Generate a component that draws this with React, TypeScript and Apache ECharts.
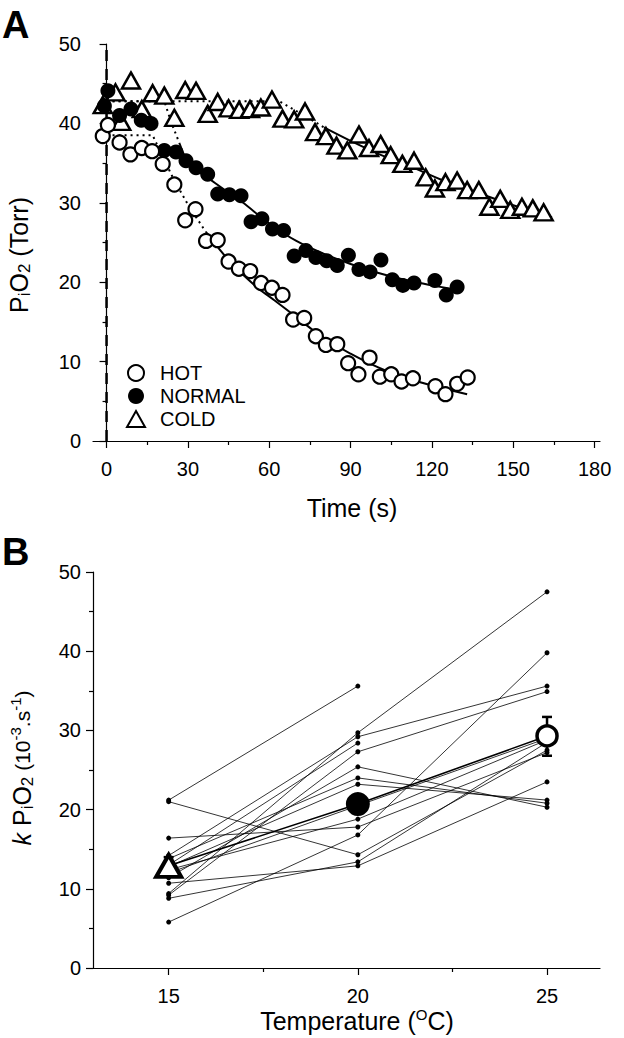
import React, { useEffect, useRef } from "react";
import * as echarts from "echarts";

const FONT = '"Liberation Sans", Arial, Helvetica, sans-serif';

// ---------- Panel A data (time in s, PiO2 in Torr) ----------
const hotTime = [-1.4, 0.5, 4.8, 8.8, 13, 16.8, 20.7, 25, 29, 32.8, 36.7, 41, 45, 48.8, 53, 57, 61, 64.9, 68.8, 72.9, 77.2, 80.9, 85.1, 89.1, 92.9, 97, 100.8, 105, 108.8, 113, 121.3, 125, 129.3, 133.2];
const hotPO2 = [38.4, 39.8, 37.6, 36.1, 36.9, 36.5, 34.9, 32.3, 27.8, 29.2, 25.2, 25.3, 22.6, 21.7, 21.4, 19.9, 19.3, 18.4, 15.3, 15.5, 13.2, 12.1, 12.2, 9.8, 8.4, 10.5, 8.1, 8.4, 7.5, 7.9, 6.9, 5.9, 7.2, 8.0];

const normalTime = [0.5, -0.8, 4.8, 9, 12.8, 16.4, 21.3, 25.6, 29.3, 33, 37.3, 41, 45.3, 49.6, 53.3, 57.3, 61.2, 65.3, 69.2, 73.5, 77.2, 81.2, 85.1, 89.2, 93.1, 97.2, 101.2, 105.4, 109.3, 113.4, 121.1, 125.3, 129.3];
const normalPO2 = [44.1, 42.2, 41, 41.8, 40.4, 40, 36.6, 36.4, 35.3, 34.4, 33.6, 31.1, 31, 30.9, 27.6, 28, 26.7, 26.5, 23.3, 24, 23.1, 22.7, 22.1, 23.4, 21.6, 21.3, 22.8, 20.3, 19.6, 19.9, 20.2, 18.4, 19.4];

const coldTime = [-1.4, 3.3, 5.4, 9, 13, 17, 21.3, 25, 29, 33, 37.3, 41, 45, 48.9, 52.9, 56.9, 61, 64.9, 69.2, 73.2, 76.9, 80.9, 84.8, 88.8, 93.1, 96.8, 101.1, 104.8, 109.1, 113.4, 117.7, 121.1, 125, 129.3, 133, 137.3, 141.2, 145.2, 148.9, 153.2, 157.2, 161.2];
const coldPO2 = [42.3, 43.9, 40.2, 45.4, 41.8, 43.8, 43.5, 40.7, 44.2, 44.1, 41.2, 42.7, 41.9, 41.7, 41.8, 42, 43, 40.6, 40.5, 41.5, 38.9, 38.4, 37.2, 36.6, 38.6, 36.9, 37.4, 36, 34.9, 35.3, 33.2, 31.8, 32.6, 32.8, 31.6, 31.6, 29.5, 30.5, 29.1, 29.5, 29.3, 28.8];

// fitted curves
const hotDotT = [0, 17, 21, 25, 30.5, 36.7];
const hotDotY = [38.5, 38.5, 35.6, 32.8, 29.5, 26.3];
const hotFitT = [36.7, 45, 55, 62, 70, 80, 90, 100, 110, 120, 133];
const hotFitY = [26.3, 22.8, 19.5, 17.7, 15.6, 13.0, 11.0, 9.3, 8.0, 7.0, 5.9];

const normalDotT = [0, 21.3, 24, 27];
const normalDotY = [42.8, 42.8, 40.0, 37.4];
const normalFitT = [27, 30.5, 40, 50, 60, 70, 80, 90, 100, 110, 120, 130];
const normalFitY = [37.4, 35.0, 32.5, 30.1, 27.4, 25.2, 23.6, 22.3, 21.2, 20.3, 19.6, 19.0];

const coldDotT = [0, 63.7, 72.9, 80.2];
const coldDotY = [42.8, 42.8, 41.0, 39.5];
const coldFitT = [80.2, 90, 100, 112.7, 125, 137.3, 150, 164.3];
const coldFitY = [39.5, 37.8, 36.2, 34.5, 32.7, 31.2, 29.7, 28.2];

const timeTicks = [0, 30, 60, 90, 120, 150, 180];
const timeMinorTicks = [15, 45, 75, 105, 135, 165];

// ---------- Panel B data (kPiO2, 10^-3 s^-1) ----------
const temperatures = [15, 20, 25];
const k15 = [21.2, 21.0, 16.4, 14.2, 9.4, 9.2, 13.8, 12.4, 12.0, 10.7, 8.8, 5.8, 11.4, 12.8, 13.0];
const k20 = [35.6, 14.3, 17.8, 29.2, 29.7, 27.3, 24.0, 18.8, 20.5, 12.9, 13.4, 16.8, 25.4, 23.2, 28.4];
const k25 = [null, 27.5, 27.2, 35.6, 47.5, 34.9, 20.8, 28.8, 29.0, 23.5, 28.5, 39.8, 20.3, 21.2, null];
const meanK = [12.9, 20.7, 29.3];
const seLow = [11.6, 19.8, 26.8];
const seHigh = [14.0, 21.6, 31.7];
const tempTicks = [15, 20, 25];
const tempMinorTicks = [17.5, 22.5];

const zip = (a: number[], b: (number | null)[]) =>
  a.map((v, i) => [v, b[i]]).filter((p) => p[1] !== null && p[1] !== undefined);

export default function App() {
  const ref = useRef<HTMLDivElement>(null);

  useEffect(() => {
    document.body.style.margin = "0";
    const chart = echarts.init(ref.current!, null, { renderer: "svg" });

    const axisLbl = { color: "#000", fontFamily: FONT, fontSize: 20 };
    const axisLine = { show: true, lineStyle: { color: "#000", width: 1.2 } };
    const tickLine = { color: "#000", width: 1.2 };

    const xAxes: any[] = [
      {
        gridIndex: 0, type: "value", min: -5, max: 182, position: "bottom",
        axisLine, splitLine: { show: false },
        axisTick: { show: true, length: 7, customValues: timeTicks, lineStyle: tickLine },
        axisLabel: { ...axisLbl, margin: 18, customValues: timeTicks },
      },
      {
        gridIndex: 0, type: "value", min: -5, max: 182, position: "bottom",
        axisLine: { show: false }, splitLine: { show: false },
        axisTick: { show: true, length: 4, customValues: timeMinorTicks, lineStyle: tickLine },
        axisLabel: { show: false },
      },
      {
        gridIndex: 1, type: "value", min: 13, max: 26.4, position: "bottom",
        axisLine, splitLine: { show: false },
        axisTick: { show: true, length: 7, customValues: tempTicks, lineStyle: tickLine },
        axisLabel: { ...axisLbl, margin: 18, customValues: tempTicks },
      },
      {
        gridIndex: 1, type: "value", min: 13, max: 26.4, position: "bottom",
        axisLine: { show: false }, splitLine: { show: false },
        axisTick: { show: true, length: 4, customValues: tempMinorTicks, lineStyle: tickLine },
        axisLabel: { show: false },
      },
    ];

    const yAxes: any[] = [0, 1].map((g) => ({
      gridIndex: g, type: "value", min: 0, max: 50, interval: 10, position: "left",
      axisLine, splitLine: { show: false },
      axisTick: { show: true, length: 7, lineStyle: tickLine },
      minorTick: { show: true, splitNumber: 2, length: 4, lineStyle: tickLine },
      axisLabel: { ...axisLbl, margin: 12 },
    }));

    const fitLine = (t: number[], y: number[], dotted: boolean) => ({
      type: "line", xAxisIndex: 0, yAxisIndex: 0, silent: true,
      data: zip(t, y), symbol: "none", smooth: dotted ? false : 0.35,
      lineStyle: { color: "#000", width: 2, type: dotted ? [2, 4] : "solid" },
      z: 2,
    });

    const series: any[] = [
      {
        type: "line", xAxisIndex: 0, yAxisIndex: 0, silent: true,
        data: [[0, 0], [0, 50]], symbol: "none",
        lineStyle: { color: "#000", width: 2.5, type: [11, 8] },
        z: 1,
      },
      fitLine(hotDotT, hotDotY, true),
      fitLine(hotFitT, hotFitY, false),
      fitLine(normalDotT, normalDotY, true),
      fitLine(normalFitT, normalFitY, false),
      fitLine(coldDotT, coldDotY, true),
      fitLine(coldFitT, coldFitY, false),
      {
        name: "COLD", type: "scatter", xAxisIndex: 0, yAxisIndex: 0,
        data: zip(coldTime, coldPO2), symbol: "triangle", symbolSize: [18, 16],
        itemStyle: { color: "#fff", borderColor: "#000", borderWidth: 2.5, opacity: 1 }, z: 3,
      },
      {
        name: "NORMAL", type: "scatter", xAxisIndex: 0, yAxisIndex: 0,
        data: zip(normalTime, normalPO2), symbol: "circle", symbolSize: 15,
        itemStyle: { color: "#000", borderColor: "#000", borderWidth: 0, opacity: 1 }, z: 4,
      },
      {
        name: "HOT", type: "scatter", xAxisIndex: 0, yAxisIndex: 0,
        data: zip(hotTime, hotPO2), symbol: "circle", symbolSize: 14,
        itemStyle: { color: "#fff", borderColor: "#000", borderWidth: 2.2, opacity: 1 }, z: 5,
      },
    ];

    k15.forEach((_, i) => {
      series.push({
        type: "line", xAxisIndex: 2, yAxisIndex: 1, silent: true,
        data: zip(temperatures, [k15[i], k20[i], k25[i]]),
        symbol: "circle", symbolSize: 5, showSymbol: true,
        itemStyle: { color: "#000", opacity: 1 },
        lineStyle: { color: "#000", width: 0.8 },
        z: 2,
      });
    });

    series.push({
      type: "line", xAxisIndex: 2, yAxisIndex: 1, silent: true,
      data: zip(temperatures, meanK), symbol: "none",
      lineStyle: { color: "#000", width: 1.6 }, z: 3,
    });

    series.push({
      type: "custom", xAxisIndex: 2, yAxisIndex: 1, silent: true, z: 4,
      data: temperatures.map((t, i) => [t, seLow[i], seHigh[i]]),
      renderItem: (params: any, api: any) => {
        const x = api.value(0);
        const lo = api.coord([x, api.value(1)]);
        const hi = api.coord([x, api.value(2)]);
        const w = 5;
        const st = { stroke: "#000", lineWidth: 2.5 };
        return {
          type: "group",
          children: [
            { type: "line", shape: { x1: lo[0], y1: lo[1], x2: hi[0], y2: hi[1] }, style: st },
            { type: "line", shape: { x1: lo[0] - w, y1: lo[1], x2: lo[0] + w, y2: lo[1] }, style: st },
            { type: "line", shape: { x1: hi[0] - w, y1: hi[1], x2: hi[0] + w, y2: hi[1] }, style: st },
          ],
        };
      },
    });

    series.push({
      type: "scatter", xAxisIndex: 2, yAxisIndex: 1, silent: true, z: 5,
      data: [
        { value: [temperatures[0], meanK[0]], symbol: "triangle", symbolSize: [25, 22], itemStyle: { color: "#fff", borderColor: "#000", borderWidth: 4, opacity: 1 } },
        { value: [temperatures[1], meanK[1]], symbol: "circle", symbolSize: 24, itemStyle: { color: "#000", borderColor: "#000", borderWidth: 0, opacity: 1 } },
        { value: [temperatures[2], meanK[2]], symbol: "circle", symbolSize: 20, itemStyle: { color: "#fff", borderColor: "#000", borderWidth: 3.5, opacity: 1 } },
      ],
    });

    const title = (text: string, x: number, y: number, rich: any, rotation = 0) => ({
      type: "text", x, y, rotation, silent: true,
      style: { text, rich, align: "center", verticalAlign: "middle", fill: "#000" },
    });

    const n25 = { fontSize: 25, fontFamily: FONT, color: "#000" };
    const sub = { fontSize: 17, fontFamily: FONT, color: "#000", padding: [11, 0, 0, 0] };
    const sup = { fontSize: 15, fontFamily: FONT, color: "#000", padding: [0, 0, 13, 0] };

    chart.setOption({
      animation: false,
      backgroundColor: "#fff",
      grid: [
        { left: 93, top: 44, right: 24, height: 397, containLabel: false },
        { left: 93, top: 572, right: 24, height: 396, containLabel: false },
      ],
      xAxis: xAxes,
      yAxis: yAxes,
      legend: {
        data: ["HOT", "NORMAL", "COLD"],
        orient: "vertical", left: 121, top: 358,
        itemWidth: 18, itemHeight: 16, itemGap: 3,
        symbolKeepAspect: true,
        selectedMode: false,
        textStyle: { fontSize: 20, fontFamily: FONT, color: "#000", padding: [0, 0, 0, 10] },
      },
      series,
      graphic: [
        { type: "text", left: 2, top: 6, silent: true, style: { text: "A", fontSize: 38, fontWeight: "bold", fontFamily: FONT, fill: "#000" } },
        { type: "text", left: 2, top: 533, silent: true, style: { text: "B", fontSize: 38, fontWeight: "bold", fontFamily: FONT, fill: "#000" } },
        title("{n|Time (s)}", 352, 508, { n: n25 }),
        title("{n|P}{s|i}{n|O}{s|2}{n| (Torr)}", 19, 255, { n: n25, s: sub }, Math.PI / 2),
        title("{n|Temperature (}{u|O}{n|C)}", 357, 1021, { n: n25, u: sup }),
        title(
          "{k|k}{n| P}{s|i}{n|O}{s|2}{m| (10}{u|-3}{m|.s}{u|-1}{m|)}", 22, 768,
          { k: { ...n25, fontStyle: "italic" }, n: n25, s: sub, m: { fontSize: 21, fontFamily: FONT, color: "#000" }, u: sup },
          Math.PI / 2
        ),
      ],
    });

    return () => chart.dispose();
  }, []);

  return <div ref={ref} style={{ position: "absolute", left: 0, top: 0, width: 624, height: 1038 }} />;
}
